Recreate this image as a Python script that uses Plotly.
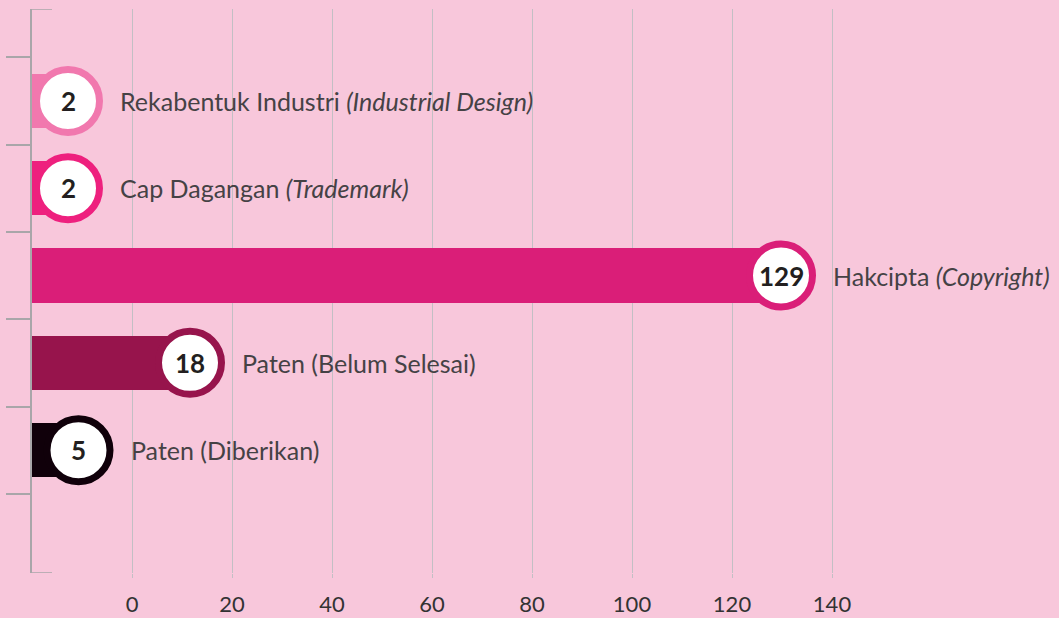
import plotly.graph_objects as go

# Data (bottom to top)
categories = ["Paten (Diberikan)", "Paten (Belum Selesai)", "Hakcipta", "Cap Dagangan", "Rekabentuk Industri"]
label_html = ["Paten (Diberikan)", "Paten (Belum Selesai)", "Hakcipta <i>(Copyright)</i>",
              "Cap Dagangan <i>(Trademark)</i>", "Rekabentuk Industri <i>(Industrial Design)</i>"]
counts = [5, 18, 129, 2, 2]
# drawn bar end positions on the x axis
bar_ends = [-10.7, 11.6, 129.8, -12.8, -12.8]
bar_base = -20
colors = ["#10000a", "#97144c", "#da1e78", "#ee207e", "#f178ae"]
x_ticks = [0, 20, 40, 60, 80, 100, 120, 140]

ypos = list(range(len(categories)))
BG = "#f8c7db"
GRID = "#c3bfc4"
AX = "#a9a6a9"

fig = go.Figure()
fig.add_trace(go.Bar(
    y=ypos, x=[e - bar_base for e in bar_ends], base=bar_base, orientation="h",
    marker=dict(color=colors, line=dict(width=0)), width=0.62, hoverinfo="skip",
))
fig.add_trace(go.Scatter(
    y=ypos, x=bar_ends, mode="markers",
    marker=dict(size=63, color="white", line=dict(color=colors, width=7)),
    hoverinfo="skip", cliponaxis=False,
))
for y, e, c, lab in zip(ypos, bar_ends, counts, label_html):
    fig.add_annotation(x=e, y=y, text=f"<b>{c}</b>", showarrow=False, xanchor="center",
                       yanchor="middle", yshift=0,
                       font=dict(family="Lato", size=26, color="#231f20"))
    fig.add_annotation(x=e, y=y, text=lab, showarrow=False, xanchor="left", yanchor="middle",
                       xshift=50, font=dict(family="Lato", size=25, color="#454245"))

ytop, ybot = 5.053, -1.407
for yy in (ytop, ybot):
    fig.add_shape(type="line", xref="x", yref="y", x0=bar_base, x1=bar_base + 4, y0=yy, y1=yy,
                  line=dict(color=AX, width=1.5))

fig.update_layout(
    width=1059, height=618, paper_bgcolor=BG, plot_bgcolor=BG,
    margin=dict(l=32, r=0, t=9, b=45, autoexpand=False), showlegend=False, bargap=0,
    xaxis=dict(range=[bar_base, bar_base + 1027 / 5], tickvals=x_ticks, showgrid=True,
               gridcolor=GRID, gridwidth=1, zeroline=False, showline=False, automargin=False,
               ticks="outside", ticklen=4, tickcolor=GRID, ticklabelstandoff=8,
               tickfont=dict(family="Lato", size=22, color="#333")),
    yaxis=dict(range=[ybot, ytop], tickvals=[-0.5, 0.5, 1.5, 2.5, 3.5, 4.5], showticklabels=False,
               ticks="outside", ticklen=24, tickcolor=AX, tickwidth=1.5, showgrid=False,
               automargin=False, zeroline=False, showline=True, linecolor=AX, linewidth=1.5),
)
fig.write_html("out.html", config={"displayModeBar": False},
               post_script="document.body.style.margin='0';document.body.style.background='%s';" % BG)
